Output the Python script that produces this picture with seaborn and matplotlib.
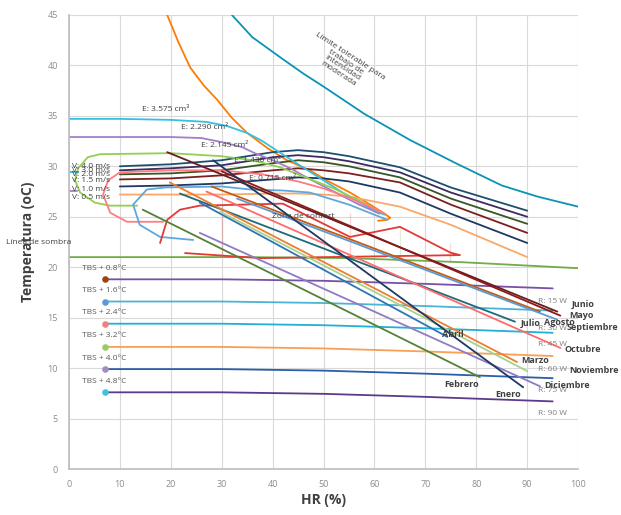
import numpy as np
import matplotlib
matplotlib.use("Agg")
import matplotlib.pyplot as plt
import seaborn as sns

lim_hr = [32, 36, 41.5, 46, 50, 58, 67, 76, 85, 92, 100]
lim_t = [45, 42.8, 40.8, 39.2, 37.9, 35.2, 32.6, 30.3, 28.1, 27.0, 26.0]

top_hr = [19.3, 21.5, 23.8, 26.5, 29.1, 32, 35, 39, 42.8, 47.3, 51, 55.2, 58.5, 61.7, 63.1, 62.5, 60.7]
top_t = [45, 42.3, 39.8, 38.0, 36.6, 34.8, 33.3, 31.8, 30.6, 29.6, 28.5, 27.4, 26.4, 25.4, 24.9, 24.7, 24.6]

# viento
v_hr = [10, 20, 30, 40, 45, 50, 55, 65, 75, 90]
v_labels = ["V: 4.0 m/s", "V: 3.0 m/s", "V: 2.0 m/s", "V: 1.5 m/s", "V: 1.0 m/s", "V: 0.5 m/s"]
v_label_t = [30.0, 29.6, 29.2, 28.6, 27.7, 26.9]
v_t = [
    [30.0, 30.2, 30.6, 31.4, 31.6, 31.4, 31.0, 29.9, 27.9, 25.6],
    [29.6, 29.8, 30.1, 30.9, 31.1, 30.9, 30.5, 29.4, 27.4, 25.0],
    [29.2, 29.3, 29.6, 30.3, 30.6, 30.4, 30.0, 28.9, 26.8, 24.3],
    [28.7, 28.8, 29.1, 29.6, 29.8, 29.6, 29.3, 28.4, 26.2, 23.4],
    [28.0, 28.1, 28.3, 28.7, 28.9, 28.8, 28.5, 27.4, 25.3, 22.4],
    [27.2, 27.2, 27.2, 27.3, 27.3, 27.2, 27.0, 26.0, 24.2, 21.0],
]
v_colors = ["#1d4f6e", "#3e2b5e", "#375623", "#7b1f1f", "#1f3864", "#f9a86a"]

# enfriamiento evaporativo
e_labels = ["E: 3.575 cm³", "E: 2.290 cm²", "E: 2.145 cm²", "E: 1.430 cm²", "E: 0.715 cm²"]
e_label_pos = [(19, 35.6), (26.7, 33.8), (30.6, 32.1), (37, 30.6), (40, 28.8)]
e_hr = [
    [0, 10, 20, 27, 31, 35, 38, 41, 45, 50, 55, 60, 62],
    [0, 10, 20, 26, 30, 34, 36.5, 40, 43.5, 47, 52, 57, 61],
    [13.4, 8, 5.1, 2.2, 1.2, 1.8, 3.7, 6.1, 20, 30, 36, 41.5, 47, 52, 57, 61],
    [18.5, 11.4, 8.1, 6.7, 7.7, 10, 20, 30, 38, 45, 50, 55, 60, 62],
    [24.4, 17.9, 13.9, 12.6, 15.3, 18.9, 30, 35.6, 42, 47.3, 55, 62.5],
]
e_t = [
    [34.7, 34.7, 34.6, 34.4, 34.0, 33.3, 32.5, 31.5, 30.2, 28.6, 27.0, 25.6, 25.2],
    [32.9, 32.9, 32.9, 32.8, 32.4, 31.9, 31.3, 30.6, 29.8, 28.8, 27.5, 26.2, 25.3],
    [26.1, 26.1, 26.4, 27.4, 28.6, 29.8, 30.9, 31.2, 31.3, 31.0, 30.6, 29.9, 28.8, 27.8, 26.6, 25.5],
    [24.5, 24.5, 25.4, 27.2, 28.6, 29.4, 29.6, 29.6, 29.2, 28.5, 27.8, 26.9, 25.8, 25.3],
    [22.7, 23.0, 24.2, 26.2, 27.7, 27.9, 28.0, 27.7, 27.6, 27.4, 26.2, 24.7],
]
e_colors = ["#35bfe0", "#a47fc9", "#92d050", "#ff7c80", "#5fa8dc"]

# zona de confort
conf_hr = [17.9, 19.3, 21.8, 25.7, 42.0, 55.2, 65.0, 74.9, 76.8, 74.9, 55.2, 37.5, 22.8, 17.9]
conf_t = [22.4, 24.7, 25.7, 26.1, 26.3, 25.4, 24.0, 22.4, 21.2, 20.5, 20.6, 20.9, 21.4, 22.4]

sombra_hr = [0, 35, 55, 77, 100]
sombra_t = [21.0, 21.0, 20.9, 20.5, 19.9]

# radiación
r_hr = [7, 30, 50, 70, 95]
r_dt = [0, 0, -0.15, -0.45, -0.9]
r_t0 = [18.8, 16.6, 14.4, 12.1, 9.9, 7.6]
r_tbs = ["TBS + 0.8°C", "TBS + 1.6°C", "TBS + 2.4°C", "TBS + 3.2°C", "TBS + 4.0°C", "TBS + 4.8°C"]
r_w = ["R: 15 W", "R: 30 W", "R: 45 W", "R: 60 W", "R: 75 W", "R: 90 W"]
r_w_t = [16.6, 13.9, 12.3, 9.9, 7.8, 5.5]
r_colors = ["#7a4fa8", "#4bb3d6", "#1fb1d6", "#f8a055", "#2a5ea8", "#5c3a8a"]
r_markers = ["#a0420f", "#5b9bd5", "#f08080", "#9bca6a", "#a38cc6", "#3cc3e0"]

# meses (HR mín, T máx) -> (HR máx, T mín)
meses = ["Junio", "Mayo", "Agosto", "Julio", "Septiembre", "Octubre",
         "Abril", "Marzo", "Noviembre", "Febrero", "Diciembre", "Enero"]
mes_hr = [[19.3, 95.9], [30, 96.5], [28, 92.5], [21.8, 87.6], [33, 95.9], [27, 96.5],
          [25.7, 74.3], [19.8, 88.0], [29.7, 90.0], [14.5, 80.7], [25.7, 92.5], [28.3, 89.2]]
mes_t = [[31.4, 15.6], [29.5, 15.2], [28.0, 15.6], [27.3, 14.6], [26.8, 14.8], [27.5, 12.0],
         [26.4, 13.1], [28.4, 10.6], [25.5, 9.7], [25.7, 9.1], [23.4, 8.2], [30.6, 8.1]]
mes_colors = ["#6b1d1d", "#8b1a1a", "#c55a11", "#1d6b7a", "#5b9bd5", "#ff6b6b",
              "#2e75b6", "#ed7d31", "#a9d18e", "#548235", "#8e7cc3", "#203864"]
mes_label_pos = [(101, 16.3), (100.6, 15.2), (96.3, 14.5), (90.6, 14.4), (102.8, 14.0), (101, 11.8),
                 (75.4, 13.3), (91.6, 10.8), (103.2, 9.8), (77.2, 8.4), (97.8, 8.3), (86.2, 7.4)]

sns.set_theme(style="whitegrid")
plt.rcParams['font.family'] = ['Open Sans', 'DejaVu Sans']

fig = plt.figure(figsize=(6.21, 5.15), dpi=100)
ax = fig.add_axes([0.111, 0.0893, 0.82, 0.8817])

lw = 1.3
sns.lineplot(x=lim_hr, y=lim_t, sort=False, color="#0a93b5", lw=lw, ax=ax)
sns.lineplot(x=top_hr, y=top_t, sort=False, color="#ff7b00", lw=lw, ax=ax)

for t, c in zip(v_t, v_colors):
    sns.lineplot(x=v_hr, y=t, sort=False, color=c, lw=lw, ax=ax)
for lab, t in zip(v_labels, v_label_t):
    ax.text(0.6, t, lab, fontsize=6, color="#404040", va="center", ha="left")

for h, t, c in zip(e_hr, e_t, e_colors):
    sns.lineplot(x=h, y=t, sort=False, color=c, lw=lw, ax=ax)
for lab, (x, y) in zip(e_labels, e_label_pos):
    ax.text(x, y, lab, fontsize=6, color="#404040", ha="center", va="center")
sns.lineplot(x=[0, 1.8], y=[29.4, 29.4], color="#35bfe0", lw=lw, ax=ax)
sns.lineplot(x=[0, 1.5], y=[27.6, 27.6], color="#a47fc9", lw=lw, ax=ax)

sns.lineplot(x=sombra_hr, y=sombra_t, sort=False, color="#70ad47", lw=lw, ax=ax)
ax.text(-6, 22.4, "Línea de sombra", fontsize=6, color="#404040", ha="center", va="center")

sns.lineplot(x=conf_hr, y=conf_t, sort=False, color="#e53935", lw=lw, ax=ax)
sns.lineplot(x=[30, 30], y=[21.1, 26.2], sort=False, color="#c00000", lw=1.6, ax=ax)
sns.lineplot(x=[65, 65], y=[20.7, 23.9], sort=False, color="#70ad47", lw=lw, ax=ax)
ax.text(46, 25, "Zona de confort", fontsize=6, color="#404040", ha="center", va="center")

for t0, c, mc, lab in zip(r_t0, r_colors, r_markers, r_tbs):
    ts = [t0 + d for d in r_dt]
    sns.lineplot(x=r_hr, y=ts, sort=False, color=c, lw=lw, ax=ax)
    ax.scatter([r_hr[0]], [t0], color=mc, s=14, zorder=5)
    ax.text(r_hr[0], t0 + 1.1, lab, fontsize=6, color="#595959", ha="center", va="center")
for lab, t in zip(r_w, r_w_t):
    ax.text(95, t, lab, fontsize=6, color="#7f7f7f", ha="center", va="center")

for h, t, c in zip(mes_hr, mes_t, mes_colors):
    sns.lineplot(x=h, y=t, sort=False, color=c, lw=lw, ax=ax)
for m, (x, y) in zip(meses, mes_label_pos):
    ax.text(x, y, m, fontsize=6.5, color="#404040", fontweight="bold", ha="center", va="center")

ax.text(54, 40, "Límite tolerable para\ntrabajo de\nintensidad\nmoderada", fontsize=6,
        color="#404040", ha="center", va="center", rotation=-33, linespacing=1.0)

ax.set_xlim(0, 100)
ax.set_ylim(0, 45)
ax.set_xticks(range(0, 101, 10))
ax.set_yticks(range(0, 46, 5))
ax.tick_params(labelsize=6.5, colors="#8c8c8c", pad=2)
ax.grid(color="#d9d9d9", lw=0.8)
for s in ["top", "right"]:
    ax.spines[s].set_visible(False)
for s in ["left", "bottom"]:
    ax.spines[s].set_color("#bfbfbf")
ax.set_xlabel("HR (%)", fontsize=10, fontweight="bold", color="#404040", labelpad=3)
ax.set_ylabel("Temperatura (oC)", fontsize=10, fontweight="bold", color="#404040", labelpad=9)

fig.savefig("out.png", dpi=100)
